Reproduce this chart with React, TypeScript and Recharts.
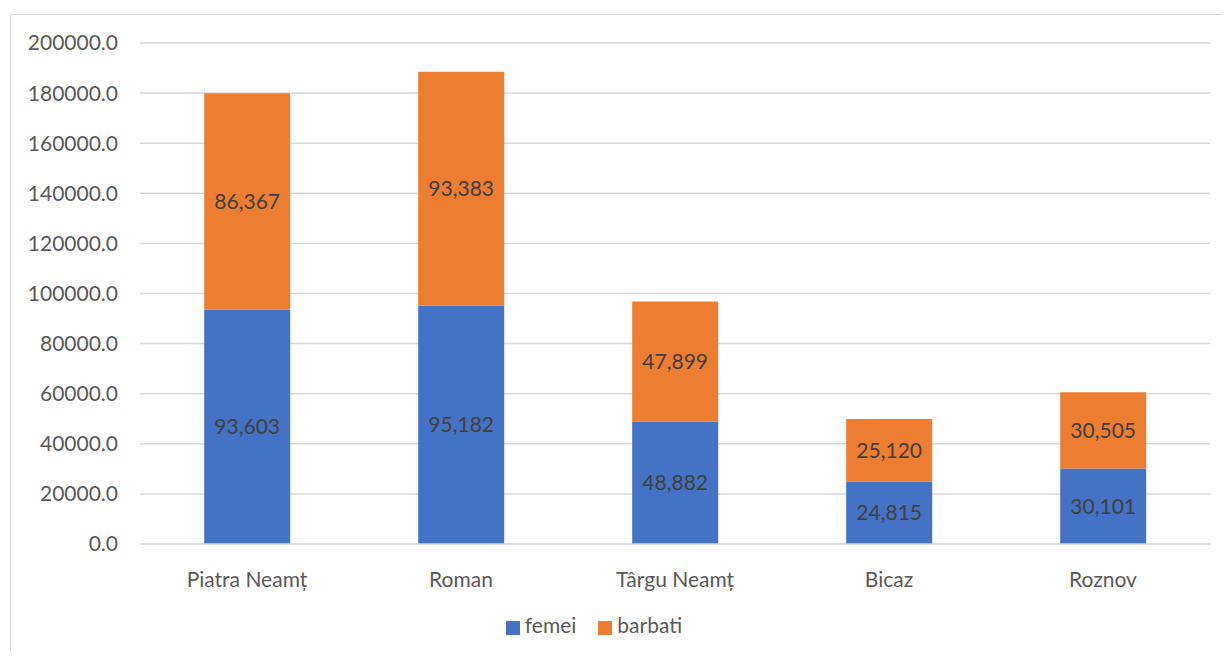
import { BarChart, Bar, XAxis, YAxis, CartesianGrid, Legend, LabelList } from "recharts";

const cities = ["Piatra Neamț", "Roman", "Târgu Neamț", "Bicaz", "Roznov"];
const femei = [93603, 95182, 48882, 24815, 30101];
const barbati = [86367, 93383, 47899, 25120, 30505];
const yTicks = [0, 20000, 40000, 60000, 80000, 100000, 120000, 140000, 160000, 180000, 200000];

const data = cities.map((c, i) => ({ city: c, femei: femei[i], barbati: barbati[i] }));

const FONT = "Lato, 'Open Sans', sans-serif";
const fmt = (v: number) => v.toLocaleString("en-US");
const order = ["femei", "barbati"];

export default function App() {
  return (
    <div style={{ position: "relative", width: 1230, height: 659, margin: -8, background: "#fff", fontFamily: FONT }}>
      <div
        style={{
          position: "absolute", left: 10, top: 14, width: 1225, height: 641,
          border: "1px solid #d9d9d9", boxSizing: "border-box",
        }}
      />
      <div style={{ position: "absolute", left: 0, top: 0 }}>
        <BarChart
          width={1230}
          height={659}
          data={data}
          margin={{ top: 43, right: 20, left: 0, bottom: 50 }}
          barCategoryGap="30%"
        >
          <CartesianGrid vertical={false} stroke="#d9d9d9" strokeWidth={1.5} />
          <XAxis
            dataKey="city"
            axisLine={{ stroke: "#d9d9d9", strokeWidth: 1.5 }}
            tickLine={false}
            tickMargin={22}
            height={40}
            tick={{ fontSize: 21, fill: "#595959", fontFamily: FONT }}
          />
          <YAxis
            width={140}
            domain={[0, 200000]}
            ticks={yTicks}
            axisLine={false}
            tickLine={false}
            tickMargin={16}
            tickFormatter={(v: number) => v.toFixed(1)}
            tick={{ fontSize: 21, fill: "#595959", fontFamily: FONT }}
          />
          <Legend
            verticalAlign="bottom"
            iconType="square"
            iconSize={14}
            itemSorter={(item: any) => order.indexOf(item.value)}
            wrapperStyle={{ top: 612, fontSize: 21, fontFamily: FONT }}
            formatter={(v: string) => (
              <span style={{ color: "#595959", marginLeft: 1, marginRight: 12 }}>{v}</span>
            )}
          />
          <Bar dataKey="femei" stackId="a" fill="#4472C4" isAnimationActive={false}>
            <LabelList dataKey="femei" position="center" formatter={fmt} style={{ fontSize: 21, fill: "#404040", fontFamily: FONT }} />
          </Bar>
          <Bar dataKey="barbati" stackId="a" fill="#ED7D31" isAnimationActive={false}>
            <LabelList dataKey="barbati" position="center" formatter={fmt} style={{ fontSize: 21, fill: "#404040", fontFamily: FONT }} />
          </Bar>
        </BarChart>
      </div>
    </div>
  );
}
